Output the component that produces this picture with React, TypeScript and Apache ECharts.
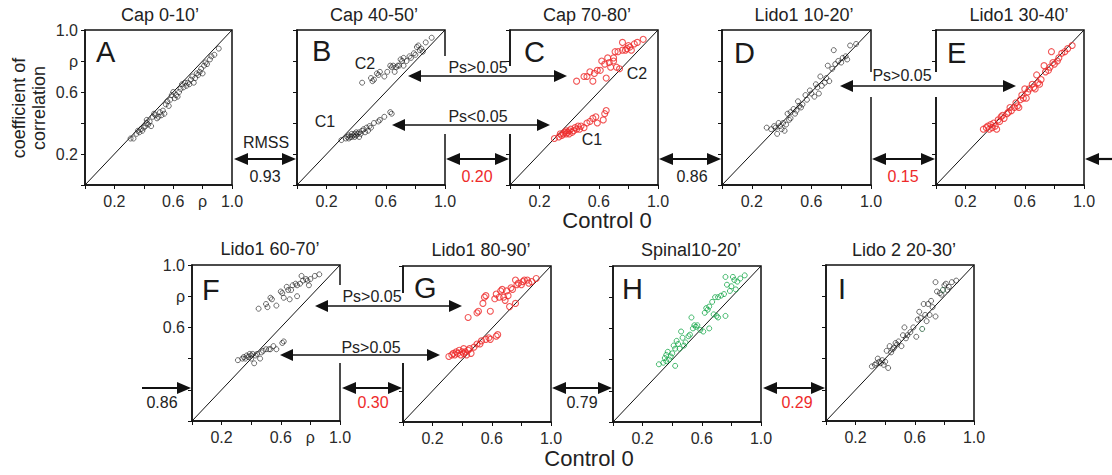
import React, { useEffect, useRef } from "react";
import * as echarts from "echarts";

// ---------- data ----------
const titles = ["Cap 0-10’", "Cap 40-50’", "Cap 70-80’", "Lido1 10-20’", "Lido1 30-40’", "Lido1 60-70’", "Lido1 80-90’", "Spinal10-20’", "Lido 2 20-30’"];
const letters = ["A", "B", "C", "D", "E", "F", "G", "H", "I"];

const xTicksRho = ["", "0.2", "", "0.6", "ρ", "1.0"];
const xTicksPlain = ["", "0.2", "", "0.6", "", "1.0"];
const yTicksA = ["", "0.2", "", "0.6", "ρ", "1.0"];
const yTicksF = ["", "", "", "0.6", "ρ", "1.0"];
const yTicksNone = ["", "", "", "", "", ""];

const rmssTop = ["0.93", "0.20", "0.86", "0.15"];
const rmssBottom = ["0.86", "0.30", "0.79", "0.29"];

const diagonal = [[0, 0], [1, 1]];

const capA = [[0.31,0.30],[0.33,0.30],[0.35,0.33],[0.36,0.35],[0.37,0.34],[0.38,0.36],[0.39,0.35],[0.40,0.37],[0.41,0.38],[0.42,0.40],[0.42,0.42],[0.43,0.39],[0.44,0.41],[0.45,0.38],[0.46,0.44],[0.47,0.46],[0.48,0.45],[0.49,0.43],[0.50,0.44],[0.51,0.47],[0.52,0.45],[0.53,0.48],[0.54,0.46],[0.55,0.52],[0.56,0.54],[0.57,0.51],[0.58,0.55],[0.59,0.58],[0.60,0.60],[0.61,0.56],[0.62,0.58],[0.63,0.57],[0.64,0.60],[0.65,0.62],[0.66,0.65],[0.67,0.63],[0.68,0.66],[0.69,0.64],[0.70,0.66],[0.71,0.65],[0.72,0.68],[0.73,0.70],[0.74,0.66],[0.75,0.69],[0.76,0.72],[0.77,0.71],[0.78,0.73],[0.79,0.75],[0.80,0.72],[0.81,0.77],[0.82,0.79],[0.83,0.78],[0.85,0.81],[0.86,0.83],[0.88,0.84],[0.91,0.88]];

const capB_C2 = [[0.44,0.66],[0.50,0.69],[0.51,0.67],[0.52,0.68],[0.54,0.72],[0.55,0.71],[0.56,0.73],[0.59,0.70],[0.61,0.73],[0.63,0.77],[0.64,0.76],[0.65,0.77],[0.66,0.73],[0.67,0.76],[0.68,0.77],[0.69,0.77],[0.70,0.81],[0.71,0.80],[0.72,0.82],[0.72,0.77],[0.74,0.80],[0.76,0.83],[0.77,0.82],[0.79,0.85],[0.80,0.84],[0.81,0.89],[0.82,0.90],[0.83,0.87],[0.84,0.88],[0.85,0.86],[0.87,0.92],[0.91,0.95]];
const capB_C1 = [[0.30,0.29],[0.33,0.30],[0.34,0.31],[0.35,0.32],[0.35,0.30],[0.36,0.31],[0.37,0.33],[0.37,0.31],[0.38,0.32],[0.39,0.33],[0.39,0.31],[0.40,0.34],[0.40,0.32],[0.41,0.33],[0.42,0.31],[0.42,0.34],[0.43,0.33],[0.44,0.35],[0.45,0.36],[0.46,0.34],[0.47,0.37],[0.48,0.35],[0.49,0.38],[0.50,0.37],[0.52,0.40],[0.55,0.41],[0.56,0.42],[0.59,0.44],[0.63,0.47],[0.64,0.46]];

const capC_C2 = [[0.45,0.67],[0.50,0.70],[0.52,0.70],[0.54,0.73],[0.56,0.67],[0.57,0.72],[0.59,0.74],[0.61,0.74],[0.62,0.80],[0.64,0.78],[0.65,0.69],[0.66,0.82],[0.67,0.79],[0.68,0.76],[0.70,0.82],[0.70,0.80],[0.71,0.86],[0.72,0.76],[0.73,0.86],[0.74,0.75],[0.76,0.92],[0.76,0.87],[0.78,0.87],[0.79,0.88],[0.80,0.90],[0.81,0.89],[0.82,0.87],[0.84,0.91],[0.86,0.92],[0.90,0.94]];
const capC_C1 = [[0.30,0.30],[0.33,0.31],[0.34,0.33],[0.35,0.32],[0.36,0.33],[0.37,0.34],[0.38,0.33],[0.38,0.35],[0.39,0.34],[0.40,0.35],[0.40,0.33],[0.41,0.36],[0.42,0.34],[0.43,0.35],[0.44,0.37],[0.45,0.36],[0.46,0.38],[0.47,0.36],[0.48,0.38],[0.50,0.37],[0.52,0.40],[0.54,0.41],[0.56,0.43],[0.58,0.44],[0.59,0.40],[0.63,0.42],[0.64,0.46],[0.65,0.48]];

const lidoD = [[0.30,0.37],[0.33,0.36],[0.35,0.38],[0.36,0.37],[0.37,0.33],[0.38,0.40],[0.39,0.38],[0.40,0.36],[0.41,0.40],[0.42,0.35],[0.43,0.39],[0.44,0.46],[0.45,0.42],[0.46,0.43],[0.46,0.47],[0.48,0.49],[0.49,0.46],[0.50,0.48],[0.51,0.54],[0.52,0.51],[0.53,0.50],[0.54,0.52],[0.56,0.58],[0.57,0.55],[0.59,0.61],[0.60,0.59],[0.62,0.57],[0.63,0.65],[0.64,0.63],[0.65,0.59],[0.66,0.70],[0.67,0.64],[0.69,0.66],[0.70,0.69],[0.71,0.77],[0.72,0.67],[0.74,0.75],[0.75,0.87],[0.76,0.78],[0.78,0.80],[0.80,0.79],[0.81,0.82],[0.83,0.83],[0.84,0.81],[0.86,0.90],[0.90,0.91]];

const lidoE = [[0.32,0.36],[0.34,0.37],[0.35,0.38],[0.36,0.36],[0.37,0.39],[0.38,0.37],[0.39,0.40],[0.40,0.38],[0.41,0.36],[0.42,0.42],[0.43,0.41],[0.44,0.44],[0.45,0.45],[0.46,0.43],[0.48,0.46],[0.49,0.47],[0.50,0.50],[0.51,0.48],[0.53,0.50],[0.54,0.53],[0.55,0.51],[0.56,0.50],[0.57,0.55],[0.58,0.58],[0.59,0.56],[0.60,0.62],[0.61,0.56],[0.62,0.60],[0.63,0.62],[0.65,0.65],[0.66,0.63],[0.67,0.62],[0.68,0.71],[0.69,0.66],[0.70,0.65],[0.71,0.68],[0.73,0.77],[0.74,0.73],[0.76,0.74],[0.77,0.76],[0.78,0.86],[0.79,0.79],[0.80,0.78],[0.82,0.80],[0.83,0.82],[0.85,0.85],[0.87,0.86],[0.89,0.88],[0.92,0.90]];

const lidoF_up = [[0.45,0.72],[0.50,0.75],[0.51,0.73],[0.53,0.79],[0.54,0.78],[0.57,0.74],[0.60,0.83],[0.61,0.82],[0.62,0.79],[0.64,0.86],[0.65,0.84],[0.66,0.78],[0.67,0.84],[0.68,0.87],[0.70,0.88],[0.71,0.80],[0.71,0.87],[0.73,0.88],[0.74,0.93],[0.75,0.90],[0.77,0.91],[0.78,0.90],[0.79,0.87],[0.80,0.91],[0.83,0.93],[0.86,0.94]];
const lidoF_low = [[0.31,0.39],[0.34,0.40],[0.35,0.41],[0.36,0.40],[0.37,0.42],[0.38,0.41],[0.39,0.43],[0.40,0.42],[0.40,0.40],[0.41,0.43],[0.42,0.37],[0.43,0.42],[0.44,0.43],[0.46,0.40],[0.47,0.44],[0.48,0.45],[0.50,0.46],[0.52,0.46],[0.53,0.46],[0.55,0.48],[0.57,0.46],[0.61,0.50],[0.62,0.51]];

const lidoG_up = [[0.44,0.67],[0.50,0.70],[0.51,0.71],[0.54,0.76],[0.55,0.80],[0.56,0.81],[0.59,0.71],[0.62,0.79],[0.63,0.82],[0.65,0.80],[0.66,0.84],[0.67,0.85],[0.68,0.80],[0.69,0.78],[0.70,0.84],[0.71,0.81],[0.72,0.74],[0.73,0.86],[0.74,0.85],[0.76,0.91],[0.76,0.76],[0.77,0.88],[0.78,0.89],[0.80,0.88],[0.81,0.90],[0.82,0.91],[0.84,0.91],[0.85,0.89],[0.87,0.90],[0.90,0.92]];
const lidoG_low = [[0.31,0.42],[0.33,0.43],[0.34,0.44],[0.35,0.43],[0.36,0.45],[0.37,0.44],[0.38,0.46],[0.39,0.43],[0.40,0.45],[0.41,0.44],[0.41,0.47],[0.42,0.45],[0.43,0.43],[0.44,0.46],[0.45,0.47],[0.46,0.44],[0.48,0.48],[0.50,0.50],[0.52,0.50],[0.53,0.52],[0.56,0.53],[0.58,0.54],[0.59,0.53],[0.63,0.55],[0.64,0.56]];

const spinalH = [[0.31,0.37],[0.34,0.38],[0.35,0.41],[0.36,0.43],[0.36,0.39],[0.37,0.45],[0.38,0.40],[0.39,0.42],[0.40,0.44],[0.41,0.49],[0.42,0.36],[0.42,0.47],[0.43,0.52],[0.44,0.50],[0.45,0.47],[0.46,0.58],[0.47,0.54],[0.48,0.49],[0.49,0.51],[0.51,0.55],[0.52,0.56],[0.53,0.67],[0.54,0.60],[0.55,0.62],[0.56,0.61],[0.57,0.62],[0.59,0.59],[0.61,0.58],[0.62,0.70],[0.63,0.73],[0.64,0.72],[0.65,0.60],[0.65,0.74],[0.67,0.77],[0.68,0.69],[0.69,0.80],[0.70,0.68],[0.71,0.67],[0.71,0.80],[0.73,0.81],[0.75,0.82],[0.76,0.93],[0.76,0.68],[0.77,0.88],[0.79,0.84],[0.80,0.87],[0.81,0.93],[0.82,0.91],[0.83,0.85],[0.84,0.90],[0.86,0.92],[0.89,0.94]];

const lido2I = [[0.31,0.35],[0.33,0.36],[0.34,0.37],[0.35,0.40],[0.36,0.38],[0.37,0.37],[0.38,0.39],[0.39,0.36],[0.40,0.38],[0.41,0.45],[0.42,0.34],[0.43,0.48],[0.44,0.44],[0.45,0.46],[0.46,0.47],[0.47,0.50],[0.48,0.49],[0.49,0.51],[0.51,0.48],[0.52,0.55],[0.53,0.60],[0.54,0.53],[0.55,0.55],[0.57,0.57],[0.59,0.60],[0.61,0.54],[0.62,0.65],[0.63,0.70],[0.64,0.66],[0.66,0.75],[0.67,0.68],[0.68,0.64],[0.69,0.75],[0.70,0.68],[0.71,0.77],[0.72,0.73],[0.74,0.67],[0.74,0.89],[0.75,0.83],[0.77,0.82],[0.78,0.81],[0.80,0.87],[0.81,0.88],[0.82,0.84],[0.83,0.86],[0.85,0.89],[0.88,0.90]];
const lido2I_green = [[0.65,0.59],[0.79,0.84]];

// ---------- styling / layout ----------
const FONT = '"Liberation Sans", Arial, Helvetica, sans-serif';
const BLACK = "#1a1a1a";
const RED = "#ee2a2a";
const GREEN = "#17a84a";
const DKGREEN = "#1f5a35";

const grids = [
  { left: 85, top: 30, width: 147, height: 155 },
  { left: 297, top: 30, width: 148, height: 155 },
  { left: 510, top: 30, width: 148, height: 155 },
  { left: 722, top: 30, width: 149, height: 155 },
  { left: 936, top: 30, width: 148, height: 155 },
  { left: 192, top: 265, width: 148, height: 156 },
  { left: 403, top: 266, width: 148, height: 156 },
  { left: 613, top: 266, width: 148, height: 156 },
  { left: 826, top: 265, width: 148, height: 156 },
];

const xLabelSets = [xTicksRho, xTicksPlain, xTicksPlain, xTicksPlain, xTicksPlain, xTicksRho, xTicksPlain, xTicksPlain, xTicksPlain];
const yLabelSets = [yTicksA, yTicksNone, yTicksNone, yTicksNone, yTicksNone, yTicksF, yTicksNone, yTicksNone, yTicksNone];

const panelSeries: { data: number[][]; color: string; size: number; bw: number }[][] = [
  [{ data: capA, color: BLACK, size: 5, bw: 0.8 }],
  [{ data: capB_C2, color: BLACK, size: 5, bw: 0.8 }, { data: capB_C1, color: BLACK, size: 5, bw: 0.8 }],
  [{ data: capC_C2, color: RED, size: 6, bw: 1.1 }, { data: capC_C1, color: RED, size: 6, bw: 1.1 }],
  [{ data: lidoD, color: BLACK, size: 5, bw: 0.8 }],
  [{ data: lidoE, color: RED, size: 6, bw: 1.1 }],
  [{ data: lidoF_up, color: BLACK, size: 5, bw: 0.8 }, { data: lidoF_low, color: BLACK, size: 5, bw: 0.8 }],
  [{ data: lidoG_up, color: RED, size: 6, bw: 1.1 }, { data: lidoG_low, color: RED, size: 6, bw: 1.1 }],
  [{ data: spinalH, color: GREEN, size: 5, bw: 1 }],
  [{ data: lido2I, color: BLACK, size: 5, bw: 0.8 }, { data: lido2I_green, color: DKGREEN, size: 5, bw: 1 }],
];

const titlePos = [[160, 15], [374, 15], [587, 15], [804, 15], [1019, 15], [270, 249], [481, 250], [691, 250], [904, 250]];
const letterPos = [[96, 52], [312, 51], [524, 52], [734, 53], [947, 53], [202, 290], [414, 288], [622, 289], [838, 289]];

function head(tipX: number, y: number, dir: number, len: number, half: number) {
  return {
    type: "polygon", z: 100,
    shape: { points: [[tipX, y], [tipX - dir * len, y - half], [tipX - dir * len, y + half]] },
    style: { fill: "#111" },
  };
}
function line(x1: number, x2: number, y: number, w: number) {
  return { type: "line", z: 100, shape: { x1, y1: y, x2, y2: y }, style: { stroke: "#111", lineWidth: w } };
}
function dbl(x1: number, x2: number, y: number, w = 2.2, len = 14, half = 6) {
  return [line(x1 + len - 1, x2 - len + 1, y, w), head(x1, y, -1, len, half), head(x2, y, 1, len, half)];
}
function txt(text: string, x: number, y: number, size: number, color = "#222", align = "center") {
  return { type: "text", z: 100, style: { text, x, y, fill: color, fontSize: size, fontFamily: FONT, align, verticalAlign: "middle" } };
}
// white cover over a stretch of a panel border (left edges also hide their outward ticks)
function white(x: number, y1: number, y2: number, leftEdge: boolean) {
  const x0 = leftEdge ? x - 7 : x - 2.5;
  const w = leftEdge ? 9.5 : 5;
  return { type: "rect", z: 90, shape: { x: x0, y: y1, width: w, height: y2 - y1 }, style: { fill: "#fff" } };
}

export default function App() {
  const ref = useRef<HTMLDivElement>(null);
  useEffect(() => {
    document.body.style.margin = "0";
    const chart = echarts.init(ref.current!, null, { renderer: "svg" });

    const xAxis = grids.map((_, i) => ({
      type: "value", gridIndex: i, min: 0, max: 1, interval: 0.2,
      axisLine: { show: true, onZero: false, lineStyle: { color: "#111", width: 1.5 } },
      axisTick: { show: true, inside: false, length: 4, lineStyle: { color: "#111", width: 1 } },
      splitLine: { show: false },
      axisLabel: { margin: 8, color: "#2a2a2a", fontSize: 16, fontFamily: FONT, formatter: (v: number) => xLabelSets[i][Math.round(v / 0.2)] ?? "" },
    }));
    const yAxis = grids.map((_, i) => ({
      type: "value", gridIndex: i, min: 0, max: 1, interval: 0.2,
      axisLine: { show: true, onZero: false, lineStyle: { color: "#111", width: 1.5 } },
      axisTick: { show: true, inside: false, length: 4, lineStyle: { color: "#111", width: 1 } },
      splitLine: { show: false },
      axisLabel: { margin: 7, color: "#2a2a2a", fontSize: 16, fontFamily: FONT, formatter: (v: number) => yLabelSets[i][Math.round(v / 0.2)] ?? "" },
    }));

    const series: any[] = [];
    grids.forEach((_, i) => {
      series.push({
        type: "line", xAxisIndex: i, yAxisIndex: i, data: diagonal, symbol: "none", silent: true,
        lineStyle: { color: "#111", width: 1 }, z: 3,
      });
      panelSeries[i].forEach((s) => {
        series.push({
          type: "scatter", xAxisIndex: i, yAxisIndex: i, data: s.data, symbol: "circle", symbolSize: s.size, silent: true,
          itemStyle: { color: "rgba(0,0,0,0)", borderColor: s.color, borderWidth: s.bw }, z: 4,
        });
      });
    });

    const graphics: any[] = [];
    // frame gaps
    graphics.push(white(445, 56, 134, false), white(510, 66, 134, true));
    graphics.push(white(871, 72, 97, false), white(936, 72, 97, true));
    graphics.push(white(340, 285, 363, false), white(403, 293, 363, true));
    // titles and letters
    titles.forEach((t, i) => graphics.push(txt(t, titlePos[i][0], titlePos[i][1], 18)));
    letters.forEach((l, i) => graphics.push(txt(l, letterPos[i][0], letterPos[i][1], 29, "#1a1a1a", "left")));
    // y title
    graphics.push({
      type: "text", z: 100, x: 29, y: 108, rotation: Math.PI / 2,
      style: { text: "coefficient of\ncorrelation", x: 0, y: 0, fill: "#222", fontSize: 18, lineHeight: 20, fontFamily: FONT, align: "center", verticalAlign: "middle" },
    });
    // Control 0
    graphics.push(txt("Control 0", 607, 220, 22));
    graphics.push(txt("Control 0", 589, 458, 22));
    // RMSS arrows, top row
    const topY = 159;
    graphics.push(...dbl(234, 296, topY), txt("RMSS", 266, 142, 16));
    graphics.push(...dbl(446, 509, topY), ...dbl(659, 721, topY), ...dbl(872, 935, topY));
    graphics.push(line(1112, 1085 + 13, topY, 2.2), head(1085, topY, -1, 14, 6));
    const topLabelX = [265, 477, 692, 903];
    rmssTop.forEach((v, i) => graphics.push(txt(v, topLabelX[i], 176, 16, i % 2 === 1 ? RED : "#222")));
    // bottom row
    const botY = 388;
    graphics.push(line(142, 192 - 13, botY, 2.2), head(191, botY, 1, 14, 6));
    graphics.push(...dbl(342, 402, botY), ...dbl(552, 612, botY), ...dbl(763, 825, botY));
    const botLabelX = [162, 373, 582, 797];
    rmssBottom.forEach((v, i) => graphics.push(txt(v, botLabelX[i], 402, 16, i % 2 === 1 ? RED : "#222")));
    // Ps arrows
    const ps = (x1: number, x2: number, y: number, label: string, tx: number, ty: number) => {
      graphics.push(...dbl(x1, x2, y, 1.6, 13, 6), txt(label, tx, ty, 16));
    };
    ps(408, 567, 76, "Ps>0.05", 478, 67);
    ps(392, 550, 125, "Ps<0.05", 478, 116);
    ps(840, 1016, 86, "Ps>0.05", 902, 75);
    ps(315, 462, 306, "Ps>0.05", 372, 296);
    ps(280, 440, 355, "Ps>0.05", 371, 347);
    // C1 / C2 labels
    graphics.push(txt("C2", 365, 63, 16), txt("C1", 325, 121, 16), txt("C2", 637, 73, 16), txt("C1", 592, 139, 16));

    chart.setOption({
      animation: false,
      backgroundColor: "#fff",
      grid: grids.map((g) => ({ ...g, show: true, borderColor: "#111", borderWidth: 1.5, backgroundColor: "transparent", containLabel: false })),
      xAxis, yAxis, series, graphic: graphics,
    });
    return () => chart.dispose();
  }, []);
  return <div ref={ref} style={{ width: 1112, height: 475 }} />;
}
